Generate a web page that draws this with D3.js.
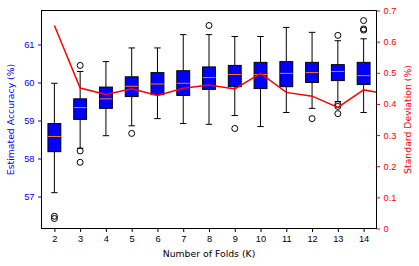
<!DOCTYPE html>
<html>
<head>
<meta charset="utf-8">
<script src="https://cdn.jsdelivr.net/npm/d3@7"></script>
<style>
  body { margin: 0; background: #fff; }
  svg { display: block; font-family: "DejaVu Sans", sans-serif; }
</style>
</head>
<body>
<div id="chart"></div>
<script>
// Box plot data per number of folds
const folds = [2, 3, 4, 5, 6, 7, 8, 9, 10, 11, 12, 13, 14];
const whiskerLow  = [57.10, 58.27, 58.60, 58.86, 59.05, 58.92, 58.90, 59.13, 58.84, 59.21, 59.32, 59.50, 59.21];
const q1          = [58.18, 59.03, 59.32, 59.63, 59.68, 59.66, 59.82, 59.89, 59.84, 59.89, 60.00, 60.05, 59.95];
const medians     = [58.58, 59.34, 59.57, 59.90, 59.96, 59.98, 60.13, 60.21, 60.21, 60.24, 60.26, 60.29, 60.18];
const q3          = [58.92, 59.57, 59.88, 60.15, 60.26, 60.31, 60.41, 60.45, 60.53, 60.55, 60.53, 60.47, 60.53];
const whiskerHigh = [59.98, 60.29, 60.55, 60.91, 60.91, 61.26, 61.26, 61.21, 61.21, 61.45, 61.32, 61.10, 61.15];
const outliers = [
  [56.42, 56.48], [60.45, 58.20, 57.90], [], [58.66], [], [], [61.50],
  [58.79], [], [], [59.05], [61.24, 59.42, 59.37, 59.18], [61.63, 61.41, 61.38]
];

// Standard deviation line (last point falls outside the axes and is clipped)
const sdFolds = [2, 3, 4, 5, 6, 7, 8, 9, 10, 11, 12, 13, 14, 15];
const sdValues = [0.652, 0.451, 0.430, 0.449, 0.427, 0.450, 0.461, 0.448, 0.498, 0.437, 0.425, 0.389, 0.445, 0.43];

const leftTicks = [57, 58, 59, 60, 61];
const rightTicks = [0, 0.1, 0.2, 0.3, 0.4, 0.5, 0.6, 0.7];

const width = 419, height = 266;
const plotLeft = 41.5, plotRight = 376.5, plotTop = 10.5, plotBottom = 228.5;
const fontSize = "9.3px";

const svg = d3.select("#chart")
  .append("svg")
  .attr("width", width)
  .attr("height", height);

const x = d3.scaleLinear().domain([1.5, 14.5]).range([plotLeft, plotRight]);
const y = d3.scaleLinear().domain([56.158, 61.895]).range([plotBottom, plotTop]);
const y2 = d3.scaleLinear().domain([0, 0.7]).range([plotBottom, plotTop]);

svg.append("clipPath").attr("id", "plot-clip")
  .append("rect")
  .attr("x", plotLeft).attr("y", plotTop)
  .attr("width", plotRight - plotLeft).attr("height", plotBottom - plotTop);

const boxW = (x(1) - x(0)) * 0.5;
const capW = boxW * 0.5;

// Boxes
const boxes = svg.append("g").selectAll("g")
  .data(folds.map((k, i) => ({k, i})))
  .join("g");

boxes.append("line")
  .attr("x1", d => x(d.k)).attr("x2", d => x(d.k))
  .attr("y1", d => y(whiskerLow[d.i])).attr("y2", d => y(q1[d.i]))
  .attr("stroke", "#000").attr("stroke-width", 1);
boxes.append("line")
  .attr("x1", d => x(d.k)).attr("x2", d => x(d.k))
  .attr("y1", d => y(q3[d.i])).attr("y2", d => y(whiskerHigh[d.i]))
  .attr("stroke", "#000").attr("stroke-width", 1);
boxes.append("line")
  .attr("x1", d => x(d.k) - capW / 2).attr("x2", d => x(d.k) + capW / 2)
  .attr("y1", d => y(whiskerLow[d.i])).attr("y2", d => y(whiskerLow[d.i]))
  .attr("stroke", "#000").attr("stroke-width", 1);
boxes.append("line")
  .attr("x1", d => x(d.k) - capW / 2).attr("x2", d => x(d.k) + capW / 2)
  .attr("y1", d => y(whiskerHigh[d.i])).attr("y2", d => y(whiskerHigh[d.i]))
  .attr("stroke", "#000").attr("stroke-width", 1);
boxes.append("rect")
  .attr("x", d => x(d.k) - boxW / 2)
  .attr("y", d => y(q3[d.i]))
  .attr("width", boxW)
  .attr("height", d => y(q1[d.i]) - y(q3[d.i]))
  .attr("fill", "#0000ff")
  .attr("stroke", "#000").attr("stroke-width", 1);
boxes.append("line")
  .attr("x1", d => x(d.k) - boxW / 2).attr("x2", d => x(d.k) + boxW / 2)
  .attr("y1", d => y(medians[d.i])).attr("y2", d => y(medians[d.i]))
  .attr("stroke", "#ff7f0e").attr("stroke-width", 1);
boxes.selectAll("circle")
  .data(d => outliers[d.i].map(v => ({k: d.k, v})))
  .join("circle")
  .attr("cx", d => x(d.k))
  .attr("cy", d => y(d.v))
  .attr("r", 3)
  .attr("fill", "none")
  .attr("stroke", "#000")
  .attr("stroke-width", 1);

// Std dev line
svg.append("path")
  .datum(sdFolds.map((k, i) => [k, sdValues[i]]))
  .attr("clip-path", "url(#plot-clip)")
  .attr("fill", "none")
  .attr("stroke", "#ff0000")
  .attr("stroke-width", 1.5)
  .attr("d", d3.line().x(d => x(d[0])).y(d => y2(d[1])));

// Frame
svg.append("rect")
  .attr("x", plotLeft).attr("y", plotTop)
  .attr("width", plotRight - plotLeft).attr("height", plotBottom - plotTop)
  .attr("fill", "none").attr("stroke", "#000").attr("stroke-width", 1);

// Axes
const styleAxis = (g, color) => {
  g.select(".domain").remove();
  g.selectAll("line").attr("stroke", color);
  g.selectAll("text").attr("fill", color).style("font-size", fontSize);
};

svg.append("g")
  .attr("transform", `translate(0,${plotBottom})`)
  .call(d3.axisBottom(x).tickValues(folds).tickSize(3.5).tickPadding(3.5).tickFormat(d3.format("d")))
  .call(g => styleAxis(g, "#000"));

svg.append("g")
  .attr("transform", `translate(${plotLeft},0)`)
  .call(d3.axisLeft(y).tickValues(leftTicks).tickSize(3.5).tickPadding(3.5).tickFormat(d3.format("d")))
  .call(g => styleAxis(g, "#0000ff"));

svg.append("g")
  .attr("transform", `translate(${plotRight},0)`)
  .call(d3.axisRight(y2).tickValues(rightTicks).tickSize(3.5).tickPadding(3.5).tickFormat(d => d === 0 ? "0" : d3.format(".1f")(d)))
  .call(g => styleAxis(g, "#ff0000"));

// Axis labels
svg.append("text")
  .attr("x", (plotLeft + plotRight) / 2).attr("y", 257)
  .attr("text-anchor", "middle")
  .style("font-size", fontSize)
  .text("Number of Folds (K)");

svg.append("text")
  .attr("transform", `translate(14,${(plotTop + plotBottom) / 2}) rotate(-90)`)
  .attr("text-anchor", "middle")
  .attr("fill", "#0000ff")
  .style("font-size", fontSize)
  .text("Estimated Accuracy (%)");

svg.append("text")
  .attr("transform", `translate(410.5,${(plotTop + plotBottom) / 2}) rotate(-90)`)
  .attr("text-anchor", "middle")
  .attr("fill", "#ff0000")
  .style("font-size", fontSize)
  .text("Standard Deviation (%)");
</script>
</body>
</html>
